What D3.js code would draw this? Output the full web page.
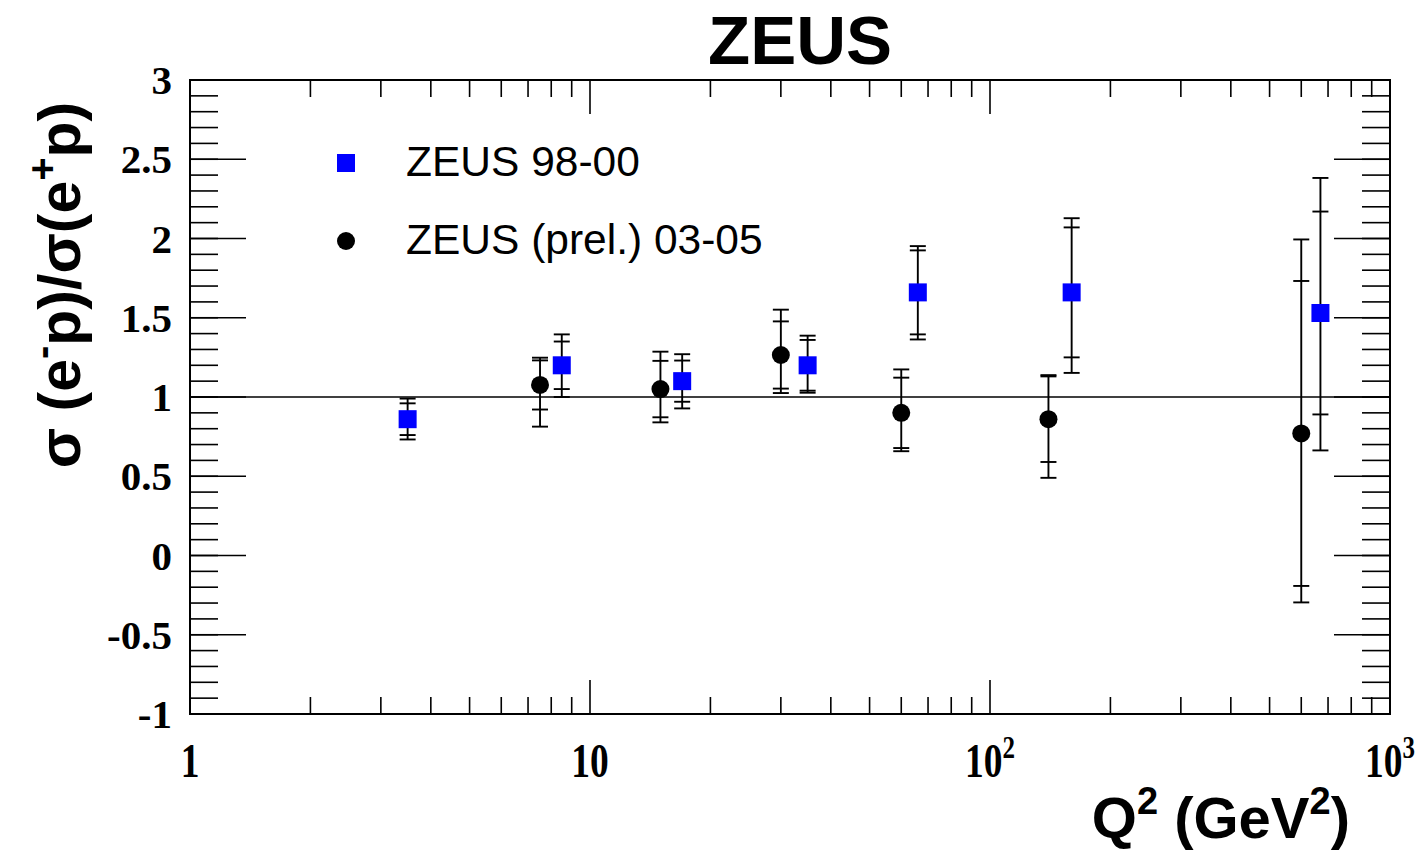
<!DOCTYPE html>
<html><head><meta charset="utf-8">
<script src="https://cdn.jsdelivr.net/npm/d3@7"></script>
<style>body{margin:0;background:#fff}</style>
</head><body>
<svg id="c" width="1420" height="850"></svg>
<script>
// ZEUS 98-00 (blue squares)
const q2A      = [3.5, 8.5, 17, 35, 66, 160, 670];
const ratioA   = [0.86, 1.20, 1.10, 1.20, 1.66, 1.66, 1.53];
const statA    = [0.10, 0.15, 0.13, 0.16, 0.265, 0.41, 0.64];
const totUpA   = [0.13, 0.195, 0.17, 0.187, 0.292, 0.468, 0.852];
const totDnA   = [0.128, 0.20, 0.172, 0.173, 0.297, 0.508, 0.867];
// ZEUS (prel.) 03-05 (black circles)
const q2B      = [7.5, 15, 30, 60, 140, 600];
const ratioB   = [1.076, 1.05, 1.265, 0.90, 0.86, 0.77];
const statB    = [0.155, 0.178, 0.212, 0.222, 0.27, 0.962];
const totUpB   = [0.172, 0.236, 0.286, 0.274, 0.278, 1.224];
const totDnB   = [0.263, 0.21, 0.24, 0.242, 0.37, 1.066];

const xTickVals   = [1, 10, 100, 1000];
const xTickLabels = [["1",""], ["10",""], ["10","2"], ["10","3"]];
const yTickVals   = [-1, -0.5, 0, 0.5, 1, 1.5, 2, 2.5, 3];
const yTickLabels = ["-1", "-0.5", "0", "0.5", "1", "1.5", "2", "2.5", "3"];
const seriesNames = ["ZEUS 98-00", "ZEUS (prel.) 03-05"];

const svg = d3.select("#c");
const L = 190, R = 1390, T = 80, B = 714;
const x = d3.scaleLog().domain([1, 1000]).range([L, R]);
const y = d3.scaleLinear().domain([-1, 3]).range([B, T]);

// ticks
const g = svg.append("g").attr("stroke", "#000").attr("stroke-width", 1.6);
const xMinor = [];
for (let d = 1; d < 1000; d *= 10) for (let k = 2; k <= 9; k++) xMinor.push(d * k);
xMinor.forEach(v => {
  g.append("line").attr("x1", x(v)).attr("x2", x(v)).attr("y1", B).attr("y2", B - 17);
  g.append("line").attr("x1", x(v)).attr("x2", x(v)).attr("y1", T).attr("y2", T + 17);
});
xTickVals.forEach(v => {
  g.append("line").attr("x1", x(v)).attr("x2", x(v)).attr("y1", B).attr("y2", B - 34);
  g.append("line").attr("x1", x(v)).attr("x2", x(v)).attr("y1", T).attr("y2", T + 34);
});
const yMinor = d3.range(-1, 3.0001, 0.1);
yMinor.forEach(v => {
  g.append("line").attr("x1", L).attr("x2", L + 28).attr("y1", y(v)).attr("y2", y(v));
  g.append("line").attr("x1", R).attr("x2", R - 28).attr("y1", y(v)).attr("y2", y(v));
});
yTickVals.forEach(v => {
  g.append("line").attr("x1", L).attr("x2", L + 56).attr("y1", y(v)).attr("y2", y(v));
  g.append("line").attr("x1", R).attr("x2", R - 56).attr("y1", y(v)).attr("y2", y(v));
});

// frame
svg.append("rect").attr("x", L).attr("y", T).attr("width", R - L).attr("height", B - T)
  .attr("fill", "none").attr("stroke", "#000").attr("stroke-width", 2);

// reference line at 1
svg.append("line").attr("x1", L).attr("x2", R).attr("y1", y(1)).attr("y2", y(1))
  .attr("stroke", "#000").attr("stroke-width", 1.3);

// tick labels
const serif = "'Liberation Serif','Times New Roman',serif";
yTickVals.forEach((v, i) => {
  svg.append("text").attr("x", 172).attr("y", y(v) + 14)
    .attr("text-anchor", "end").attr("font-family", serif).attr("font-weight", "bold")
    .attr("font-size", 41).text(yTickLabels[i]);
});
xTickVals.forEach((v, i) => {
  const t = svg.append("text").attr("x", x(v)).attr("y", 777)
    .attr("text-anchor", "middle").attr("font-family", serif).attr("font-weight", "bold")
    .attr("font-size", 48).attr("transform", `translate(${x(v)},0) scale(0.78,1) translate(${-x(v)},0)`);
  t.append("tspan").text(xTickLabels[i][0]);
  if (xTickLabels[i][1]) t.append("tspan").attr("dy", -19).attr("font-size", 32).text(xTickLabels[i][1]);
});

// error bars
function drawSeries(q, r, st, up, dn) {
  const eg = svg.append("g").attr("stroke", "#000").attr("stroke-width", 1.9);
  q.forEach((qq, i) => {
    const cx = x(qq);
    eg.append("line").attr("x1", cx).attr("x2", cx).attr("y1", y(r[i] + up[i])).attr("y2", y(r[i] - dn[i]));
    [r[i] + up[i], r[i] - dn[i], r[i] + st[i], r[i] - st[i]].forEach(v => {
      eg.append("line").attr("x1", cx - 8).attr("x2", cx + 8).attr("y1", y(v)).attr("y2", y(v));
    });
  });
}
drawSeries(q2A, ratioA, statA, totUpA, totDnA);
drawSeries(q2B, ratioB, statB, totUpB, totDnB);

// markers
svg.append("g").selectAll("rect").data(q2A).join("rect")
  .attr("x", (d) => x(d) - 9).attr("y", (d, i) => y(ratioA[i]) - 9)
  .attr("width", 18).attr("height", 18).attr("fill", "#0000ff");
svg.append("g").selectAll("circle").data(q2B).join("circle")
  .attr("cx", d => x(d)).attr("cy", (d, i) => y(ratioB[i])).attr("r", 9).attr("fill", "#000");

// legend
const sans = "'Liberation Sans',Arial,Helvetica,sans-serif";
svg.append("rect").attr("x", 337).attr("y", 154).attr("width", 18).attr("height", 18).attr("fill", "#0000ff");
svg.append("circle").attr("cx", 346).attr("cy", 241).attr("r", 9).attr("fill", "#000");
svg.append("text").attr("x", 406).attr("y", 176).attr("font-family", sans).attr("font-size", 42.5).text(seriesNames[0]);
svg.append("text").attr("x", 406).attr("y", 254).attr("font-family", sans).attr("font-size", 42.5).text(seriesNames[1]);

// title
svg.append("text").attr("x", 800).attr("y", 64).attr("text-anchor", "middle")
  .attr("font-family", sans).attr("font-weight", "bold").attr("font-size", 69).text("ZEUS");

// x title
const xt = svg.append("text").attr("x", 1350).attr("y", 838).attr("text-anchor", "end")
  .attr("font-family", sans).attr("font-weight", "bold").attr("font-size", 58);
xt.append("tspan").text("Q");
xt.append("tspan").attr("dy", -24).attr("font-size", 38).text("2");
xt.append("tspan").attr("dy", 24).text(" (GeV");
xt.append("tspan").attr("dy", -24).attr("font-size", 38).text("2");
xt.append("tspan").attr("dy", 24).text(")");

// y title
const yt = svg.append("text").attr("transform", "translate(80,285) rotate(-90)")
  .attr("text-anchor", "middle").attr("font-family", sans).attr("font-weight", "bold").attr("font-size", 59);
yt.append("tspan").text("σ (e");
yt.append("tspan").attr("dy", -24).attr("font-size", 40).text("-");
yt.append("tspan").attr("dy", 24).text("p)/σ(e");
yt.append("tspan").attr("dy", -24).attr("font-size", 40).text("+");
yt.append("tspan").attr("dy", 24).text("p)");
</script>
</body></html>
